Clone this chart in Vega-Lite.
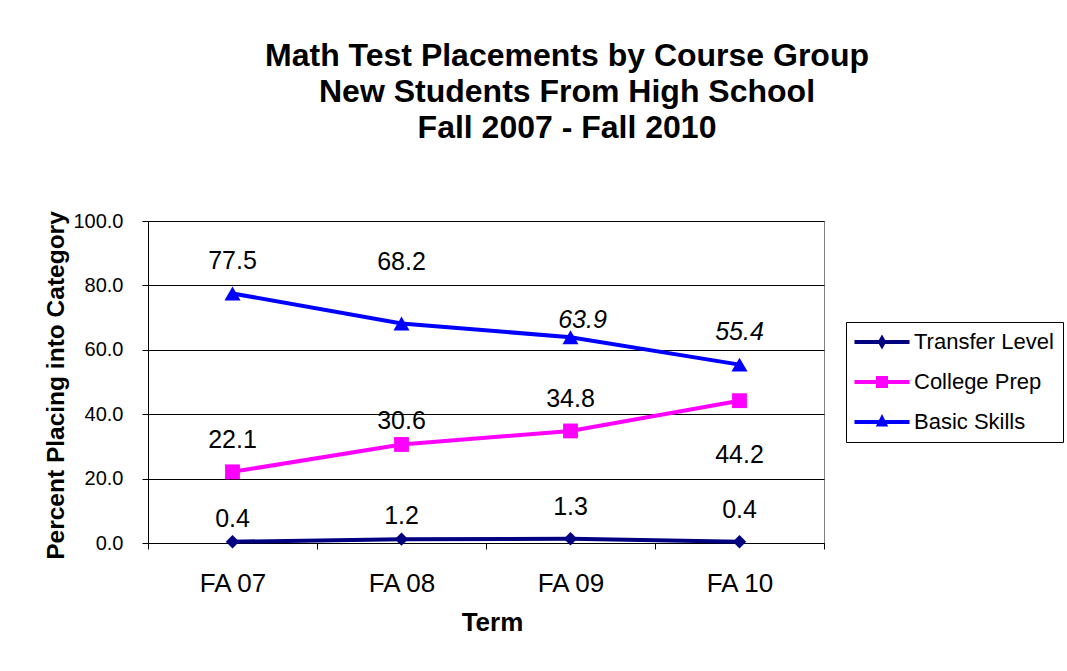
{
  "$schema": "https://vega.github.io/schema/vega-lite/v6.json",
  "width": 676,
  "height": 322,
  "autosize": {"type": "none"},
  "padding": {"left": 148, "top": 221, "right": 243, "bottom": 128},
  "background": "white",
  "config": {"font": "Liberation Sans", "view": {"stroke": "#808080", "strokeWidth": 1}},
  "title": {
    "text": ["Math Test Placements by Course Group", "New Students From High School", "Fall 2007 - Fall 2010"],
    "fontSize": 32,
    "fontWeight": "bold",
    "font": "Liberation Sans",
    "color": "black",
    "anchor": "middle",
    "frame": "group",
    "dx": 81,
    "offset": 66,
    "lineHeight": 36
  },
  "data": {
    "values": [
      {"term": "FA 07", "series": "Transfer Level", "value": 0.4},
      {"term": "FA 08", "series": "Transfer Level", "value": 1.2},
      {"term": "FA 09", "series": "Transfer Level", "value": 1.3},
      {"term": "FA 10", "series": "Transfer Level", "value": 0.4},
      {"term": "FA 07", "series": "College Prep", "value": 22.1},
      {"term": "FA 08", "series": "College Prep", "value": 30.6},
      {"term": "FA 09", "series": "College Prep", "value": 34.8},
      {"term": "FA 10", "series": "College Prep", "value": 44.2},
      {"term": "FA 07", "series": "Basic Skills", "value": 77.5},
      {"term": "FA 08", "series": "Basic Skills", "value": 68.2},
      {"term": "FA 09", "series": "Basic Skills", "value": 63.9},
      {"term": "FA 10", "series": "Basic Skills", "value": 55.4}
    ]
  },
  "encoding": {
    "x": {
      "field": "term",
      "type": "ordinal",
      "sort": ["FA 07", "FA 08", "FA 09", "FA 10"],
      "scale": {"type": "band", "paddingInner": 0, "paddingOuter": 0},
      "axis": {
        "title": "Term",
        "titleFontSize": 26,
        "titleFontWeight": "bold",
        "titleColor": "black",
        "titleX": 344,
        "titleY": 79,
        "titleBaseline": "middle",
        "labelFontSize": 26,
        "labelColor": "black",
        "labelAngle": 0,
        "labelPadding": 21,
        "tickBand": "extent",
        "tickSize": 6,
        "tickColor": "black",
        "domainColor": "black",
        "grid": false
      }
    },
    "y": {
      "field": "value",
      "type": "quantitative",
      "scale": {"domain": [0, 100], "nice": false},
      "axis": {
        "title": "Percent Placing into Category",
        "titleFontSize": 24.5,
        "titleFontWeight": "bold",
        "titleColor": "black",
        "titleAngle": -90,
        "titleX": -92,
        "titleY": 164,
        "titleBaseline": "middle",
        "titleAlign": "center",
        "values": [0, 20, 40, 60, 80, 100],
        "format": ".1f",
        "labelFontSize": 20,
        "labelColor": "black",
        "labelPadding": 19,
        "tickSize": 6,
        "tickColor": "black",
        "domainColor": "black",
        "grid": true,
        "gridColor": "black",
        "gridWidth": 1
      }
    }
  },
  "layer": [
    {
      "mark": {"type": "line", "strokeWidth": 4},
      "encoding": {
        "color": {"field": "series", "type": "nominal", "scale": {"domain": ["Transfer Level", "College Prep", "Basic Skills"], "range": ["#000080", "#FF00FF", "#0000FF"]}, "legend": null}
      }
    },
    {
      "mark": {"type": "point", "filled": true, "opacity": 1},
      "encoding": {
        "color": {"field": "series", "type": "nominal", "scale": {"domain": ["Transfer Level", "College Prep", "Basic Skills"], "range": ["#000080", "#FF00FF", "#0000FF"]}, "legend": null},
        "shape": {"field": "series", "type": "nominal", "scale": {"domain": ["Transfer Level", "College Prep", "Basic Skills"], "range": ["diamond", "square", "triangle-up"]}, "legend": null},
        "size": {"field": "series", "type": "ordinal", "scale": {"domain": ["Transfer Level", "College Prep", "Basic Skills"], "range": [180, 260, 240]}, "legend": null}
      }
    },
    {
      "mark": {"type": "point", "filled": false, "opacity": 0},
      "encoding": {
        "color": {
          "field": "series", "type": "nominal",
          "scale": {"domain": ["Transfer Level", "College Prep", "Basic Skills"], "range": ["#000080", "#FF00FF", "#0000FF"]},
          "legend": {"title": null, "orient": "none", "legendX": 698, "legendY": 101, "strokeColor": "black", "fillColor": "white", "padding": 9, "labelFontSize": 22, "labelColor": "black", "symbolSize": 100, "symbolStrokeWidth": 4, "symbolOffset": 16, "labelOffset": 21, "rowPadding": 16, "symbolOpacity": 1}
        },
        "shape": {
          "field": "series", "type": "nominal",
          "scale": {"domain": ["Transfer Level", "College Prep", "Basic Skills"], "range": ["M-5.5,0H5.5M0,-0.7L0.4,0L0,0.7L-0.4,0Z", "M-5.5,0H5.5M-0.8,-0.8H0.8V0.8H-0.8ZM-0.4,-0.4H0.4V0.4H-0.4Z", "M-5.5,0H5.5M0,-0.7L0.6,0.5H-0.6ZM0,-0.3L0.25,0.2H-0.25Z"]},
          "legend": {"title": null, "orient": "none", "legendX": 698, "legendY": 101, "strokeColor": "black", "fillColor": "white", "padding": 9, "labelFontSize": 22, "labelColor": "black", "symbolSize": 100, "symbolStrokeWidth": 4, "symbolOffset": 16, "labelOffset": 21, "rowPadding": 16, "symbolOpacity": 1}
        }
      }
    },
    {
      "transform": [{"filter": "(datum.series == 'Basic Skills' && datum.term == 'FA 07') || (datum.series == 'College Prep' && (datum.term == 'FA 07' || datum.term == 'FA 09')) || (datum.series == 'Transfer Level' && (datum.term == 'FA 09' || datum.term == 'FA 10'))"}],
      "mark": {"type": "text", "fontSize": 25, "color": "black", "baseline": "middle", "dy": -32},
      "encoding": {"text": {"field": "value", "type": "quantitative", "format": ".1f"}}
    },
    {
      "transform": [{"filter": "(datum.series == 'Transfer Level' && (datum.term == 'FA 07' || datum.term == 'FA 08')) || (datum.series == 'College Prep' && datum.term == 'FA 08')"}],
      "mark": {"type": "text", "fontSize": 25, "color": "black", "baseline": "middle", "dy": -23},
      "encoding": {"text": {"field": "value", "type": "quantitative", "format": ".1f"}}
    },
    {
      "transform": [{"filter": "datum.series == 'Basic Skills' && datum.term == 'FA 08'"}],
      "mark": {"type": "text", "fontSize": 25, "color": "black", "baseline": "middle", "dy": -61},
      "encoding": {"text": {"field": "value", "type": "quantitative", "format": ".1f"}}
    },
    {
      "transform": [{"filter": "datum.series == 'Basic Skills' && datum.term == 'FA 09'"}],
      "mark": {"type": "text", "fontSize": 25, "fontStyle": "italic", "color": "black", "baseline": "middle", "dy": -17, "dx": 12},
      "encoding": {"text": {"field": "value", "type": "quantitative", "format": ".1f"}}
    },
    {
      "transform": [{"filter": "datum.series == 'Basic Skills' && datum.term == 'FA 10'"}],
      "mark": {"type": "text", "fontSize": 25, "fontStyle": "italic", "color": "black", "baseline": "middle", "dy": -33},
      "encoding": {"text": {"field": "value", "type": "quantitative", "format": ".1f"}}
    },
    {
      "transform": [{"filter": "datum.series == 'College Prep' && datum.term == 'FA 10'"}],
      "mark": {"type": "text", "fontSize": 25, "color": "black", "baseline": "middle", "dy": 54},
      "encoding": {"text": {"field": "value", "type": "quantitative", "format": ".1f"}}
    }
  ],
  "resolve": {"scale": {"color": "independent", "shape": "independent", "size": "independent"}}
}
